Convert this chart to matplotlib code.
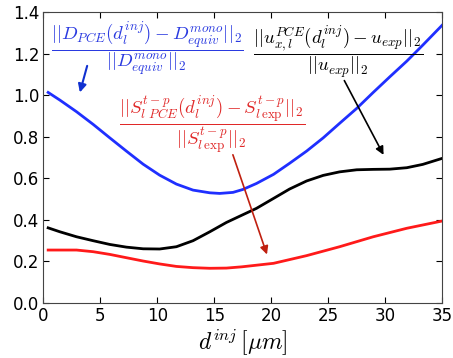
import numpy as np
from matplotlib import pyplot as plt

plt.rcParams.update({'font.size': 12, 'mathtext.fontset': 'cm'})

# values
d_blue = [0.41, 1.44, 2.9, 4.36, 5.82, 7.28, 8.75, 10.2, 11.67, 13.13, 14.6, 15.47, 16.64,
          17.5, 18.7, 20.2, 21.6, 23.1, 24.56, 26.0, 27.5, 28.95, 30.4, 31.9, 33.3, 35.0]
err_blue = [1.013, 0.976, 0.92, 0.859, 0.794, 0.730, 0.667, 0.614, 0.571, 0.542, 0.529, 0.526, 0.531,
            0.545, 0.574, 0.618, 0.671, 0.730, 0.794, 0.864, 0.936, 1.013, 1.088, 1.164, 1.241, 1.337]

d_black = [0.41, 1.44, 2.9, 4.36, 5.82, 7.28, 8.75, 10.2, 11.67, 13.13, 14.6, 16.06,
           17.3, 18.7, 20.2, 21.6, 23.1, 24.56, 26.0, 27.5, 28.95, 30.4, 31.9, 33.3, 35.0]
err_black = [0.360, 0.341, 0.317, 0.298, 0.280, 0.267, 0.259, 0.258, 0.269, 0.298, 0.341, 0.386,
             0.418, 0.454, 0.502, 0.547, 0.586, 0.613, 0.630, 0.640, 0.642, 0.643, 0.650, 0.666, 0.695]

d_red = [0.41, 2.9, 4.36, 5.82, 7.28, 8.75, 10.2, 11.67, 13.13, 14.6, 16.06, 17.4,
         20.2, 23.1, 26.0, 28.95, 31.9, 35.0]
err_red = [0.253, 0.253, 0.245, 0.232, 0.216, 0.200, 0.186, 0.174, 0.168, 0.165, 0.166, 0.172,
           0.189, 0.226, 0.269, 0.317, 0.358, 0.393]

fig = plt.figure(figsize=(4.53, 3.58), dpi=100)
ax = fig.add_axes([0.096, 0.155, 0.88, 0.811])

ax.plot(d_blue, err_blue, color='#1f2fff', lw=2)
ax.plot(d_black, err_black, color='k', lw=2)
ax.plot(d_red, err_red, color='#ff1a1a', lw=2)

# labels with arrows
ax.text(9.1, 1.225, r'$\dfrac{||D_{PCE}(d_l^{inj})-D_{equiv}^{mono}||_2}{||D_{equiv}^{mono}||_2}$',
        color='#2a3ae0', fontsize=13.5, ha='center', va='center')
ax.annotate('', xy=(3.13, 1.0), xytext=(3.9, 1.154),
            arrowprops=dict(arrowstyle='-|>', color='#1030d0', lw=1.5, mutation_scale=12))

ax.text(25.85, 1.21, r'$\dfrac{||u_{x,l}^{PCE}(d_l^{inj})-u_{exp}||_2}{||u_{exp}||_2}$',
        color='k', fontsize=13.5, ha='center', va='center')
ax.annotate('', xy=(29.97, 0.70), xytext=(26.3, 1.082),
            arrowprops=dict(arrowstyle='-|>', color='k', lw=1.2, mutation_scale=12))

ax.text(14.8, 0.855, r'$\dfrac{||S_{l\ PCE}^{t-p}(d_l^{inj})-S_{l\,\exp}^{t-p}||_2}{||S_{l\,\exp}^{t-p}||_2}$',
        color='#e02828', fontsize=13.5, ha='center', va='center')
ax.annotate('', xy=(19.7, 0.219), xytext=(16.55, 0.725),
            arrowprops=dict(arrowstyle='-|>', color='#c02010', lw=1.2, mutation_scale=12))

ax.set_xlim(0, 35)
ax.set_ylim(0, 1.4)
ax.set_xticks(np.arange(0, 36, 5))
ax.set_yticks(np.arange(0, 1.41, 0.2))
ax.set_xlabel(r'$d^{inj}\,[\mu m]$', fontsize=17, labelpad=2)
ax.tick_params(direction='in', top=True, right=True, length=4, pad=3)
for s in ax.spines.values():
    s.set_color('#444444')

plt.savefig('out.png')
